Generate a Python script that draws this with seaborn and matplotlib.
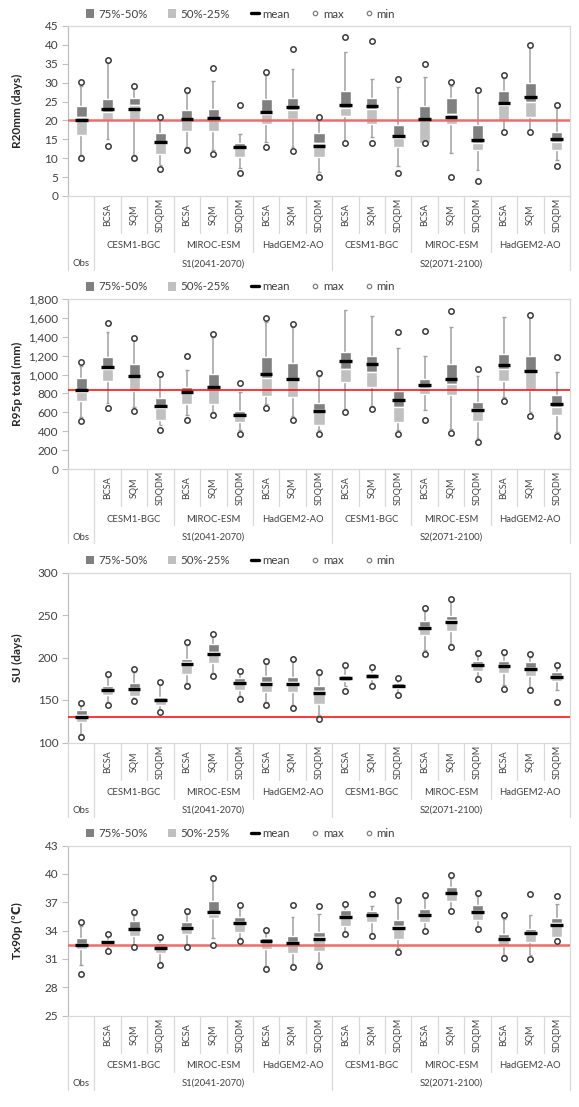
import matplotlib
matplotlib.use("Agg")
import numpy as np
import matplotlib.pyplot as plt
import matplotlib.transforms as mtransforms
from matplotlib.patches import Patch
from matplotlib.lines import Line2D
from matplotlib.ticker import StrMethodFormatter
import seaborn as sns

# categories: Obs, then S1 / S2 x (CESM1-BGC, MIROC-ESM, HadGEM2-AO) x (BCSA, SQM, SDQDM)
methods = ["BCSA", "SQM", "SDQDM"]
models = ["CESM1-BGC", "MIROC-ESM", "HadGEM2-AO"]
periods = ["Obs", "S1(2041-2070)", "S2(2071-2100)"]
n_cat = 19

# ---- R20mm (days)
r20_q75 = [23.7, 25.7, 25.9, 16.6, 22.7, 22.9, 13.9, 25.6, 25.9, 16.7, 27.9, 25.9, 18.9, 23.9, 25.9, 18.9, 27.9, 30.0, 16.9]
r20_med = [20.8, 22.3, 24.0, 13.9, 20.1, 20.3, 12.6, 21.6, 22.8, 14.0, 23.4, 22.9, 15.3, 20.0, 21.7, 14.0, 24.0, 24.9, 14.2]
r20_q25 = [16.2, 20.1, 20.1, 11.2, 17.3, 17.3, 10.4, 19.0, 20.3, 10.4, 21.1, 19.0, 13.1, 14.0, 19.0, 12.1, 20.1, 21.0, 12.1]
r20_mean = [20.2, 23.0, 22.9, 14.3, 20.5, 20.7, 13.0, 22.3, 23.5, 13.3, 24.2, 23.7, 15.9, 20.5, 20.9, 14.7, 24.7, 26.1, 15.0]
r20_whi = [29.2, 35.1, 28.5, 20.5, 27.2, 30.4, 16.4, 32.0, 33.5, 20.5, 38.0, 31.0, 28.9, 31.5, 29.2, 27.6, 31.2, 39.5, 23.5]
r20_wlo = [10.9, 15.1, 10.9, 8.2, 13.1, 12.2, 7.3, 14.4, 13.1, 6.4, 14.5, 15.7, 8.0, 14.0, 11.5, 6.9, 16.9, 16.9, 9.5]
r20_max = [30.1, 36.0, 29.0, 21.0, 28.0, 34.0, 24.0, 32.9, 38.9, 21.0, 42.0, 41.0, 31.0, 35.0, 30.1, 28.0, 32.0, 40.1, 24.1]
r20_min = [10.1, 13.2, 10.1, 7.1, 12.1, 11.0, 6.0, 13.1, 12.0, 5.0, 14.0, 14.0, 6.0, 14.0, 5.0, 4.1, 16.9, 16.9, 8.0]

# ---- R95p total (mm)
r95_q75 = [967, 1186, 1108, 755, 868, 1002, 611, 1182, 1126, 699, 1235, 1196, 829, 949, 1115, 713, 1217, 1196, 780]
r95_med = [820, 1055, 970, 650, 800, 850, 560, 960, 940, 625, 1055, 1030, 656, 861, 905, 640, 1059, 1034, 660]
r95_q25 = [716, 928, 822, 519, 688, 692, 494, 776, 759, 469, 918, 865, 501, 790, 780, 505, 935, 840, 568]
r95_mean = [833, 1080, 988, 663, 815, 872, 572, 1006, 956, 611, 1140, 1112, 730, 893, 949, 621, 1101, 1034, 685]
r95_whi = [1090, 1447, 1366, 985, 1045, 1401, 819, 1560, 1507, 985, 1683, 1623, 1285, 1196, 1507, 988, 1606, 1610, 1023]
r95_wlo = [554, 695, 660, 466, 572, 607, 413, 690, 561, 413, 640, 670, 413, 625, 420, 325, 766, 600, 395]
r95_max = [1133, 1549, 1390, 1006, 1193, 1429, 910, 1595, 1539, 1020, np.nan, np.nan, 1447, 1457, 1676, 1055, np.nan, 1627, 1182]
r95_min = [508, 646, 614, 416, 522, 568, 374, 646, 519, 374, 607, 635, 371, 519, 378, 282, 723, 565, 353]

# ---- SU (days)
su_q75 = [137.9, 166.8, 169.6, 153.8, 198.8, 215.8, 176.3, 177.9, 176.7, 166.4, 179.8, 181.4, 169.6, 243.5, 249.4, 195.7, 196.4, 194.9, 183.4]
su_med = [132.0, 163.0, 164.0, 151.0, 195.0, 206.0, 171.0, 171.0, 171.0, 161.0, 177.0, 179.0, 167.0, 236.0, 244.0, 192.0, 191.0, 188.0, 178.0]
su_q25 = [123.7, 156.0, 155.0, 143.9, 180.6, 193.3, 161.7, 159.7, 158.9, 145.8, 171.9, 175.1, 164.4, 226.5, 230.8, 183.8, 182.2, 178.7, 172.7]
su_mean = [130.4, 162.0, 162.5, 149.8, 192.9, 204.7, 169.6, 169.2, 169.2, 158.5, 176.3, 178.3, 166.8, 234.4, 241.9, 190.9, 189.7, 186.2, 176.7]
su_whi = [143.9, 177.5, 183.4, 168.4, 215.0, 224.9, 181.4, 192.5, 195.3, 179.4, 187.4, 186.6, 174.3, 254.5, 266.0, 202.0, 203.2, 200.4, 187.4]
su_wlo = [110.3, 147.8, 151.8, 138.7, 169.6, 181.4, 154.5, 147.8, 143.9, 132.0, 166.8, 169.6, 158.5, 209.1, 216.2, 177.5, 167.6, 165.6, 161.7]
su_max = [147.0, 181.0, 186.0, 170.8, 218.2, 228.0, 184.2, 195.3, 198.0, 183.0, 190.9, 189.3, 176.3, 257.7, 269.2, 205.1, 206.7, 203.6, 190.9]
su_min = [106.7, 144.3, 149.4, 136.4, 166.0, 178.3, 151.4, 144.3, 140.3, 127.7, 160.5, 166.4, 155.3, 204.3, 212.6, 174.3, 163.2, 162.0, 147.8]

# ---- Tx90p (degC)
tx_q75 = [33.2, 33.0, 35.0, 32.7, 34.9, 37.1, 35.46, 33.17, 33.38, 33.87, 36.16, 36.02, 35.14, 36.23, 38.63, 36.7, 33.6, 34.2, 35.35]
tx_med = [32.6, 32.8, 34.2, 32.3, 34.4, 35.7, 34.9, 32.9, 32.8, 33.3, 35.5, 35.7, 34.5, 35.8, 38.0, 36.1, 33.2, 33.8, 34.8]
tx_q25 = [32.0, 32.46, 33.4, 31.6, 33.6, 35.35, 33.87, 32.04, 31.65, 31.87, 34.47, 34.93, 33.1, 34.93, 37.15, 35.1, 32.4, 32.8, 33.34]
tx_mean = [32.5, 32.8, 34.15, 32.2, 34.3, 35.95, 34.75, 32.85, 32.7, 33.1, 35.39, 35.6, 34.3, 35.67, 37.92, 35.95, 33.1, 33.7, 34.58]
tx_whi = [34.5, 33.4, 35.6, 33.1, 35.7, 39.3, 36.44, 33.7, 35.4, 35.74, 36.58, 36.6, 36.87, 37.4, 39.6, 37.64, 35.25, 35.6, 36.76]
tx_wlo = [30.35, 32.0, 32.46, 30.7, 32.57, 33.2, 33.17, 30.28, 30.5, 30.7, 33.87, 33.7, 32.1, 34.2, 36.3, 34.4, 31.4, 31.4, 33.17]
tx_max = [34.86, 33.6, 35.95, 33.3, 36.06, 39.6, 36.7, 34.05, 36.7, 36.58, 36.8, 37.85, 37.2, 37.75, 39.86, 37.92, 35.6, 37.85, 37.64]
tx_min = [29.4, 31.8, 32.25, 30.3, 32.3, 32.5, 32.85, 29.93, 30.1, 30.28, 33.66, 33.38, 31.76, 33.94, 36.02, 34.15, 31.13, 30.99, 32.85]

panels = [
    dict(ylabel="R20mm (days)", ylim=(0, 45), yticks=np.arange(0, 46, 5), fmt="{x:.0f}",
         q75=r20_q75, med=r20_med, q25=r20_q25, mean=r20_mean, whi=r20_whi, wlo=r20_wlo,
         mx=r20_max, mn=r20_min, top=26, red=("#f06a6a", 1.8)),
    dict(ylabel="R95p total (mm)", ylim=(0, 1800), yticks=np.arange(0, 1801, 200), fmt="{x:,.0f}",
         q75=r95_q75, med=r95_med, q25=r95_q25, mean=r95_mean, whi=r95_whi, wlo=r95_wlo,
         mx=r95_max, mn=r95_min, top=299, red=("#ff0000", 1.1)),
    dict(ylabel="SU (days)", ylim=(100, 300), yticks=np.arange(100, 301, 50), fmt="{x:.0f}",
         q75=su_q75, med=su_med, q25=su_q25, mean=su_mean, whi=su_whi, wlo=su_wlo,
         mx=su_max, mn=su_min, top=572.5, red=("#ff0000", 1.1)),
    dict(ylabel="Tx90p (\u2103)", ylim=(25, 43), yticks=np.arange(25, 44, 3), fmt="{x:.0f}",
         q75=tx_q75, med=tx_med, q25=tx_q25, mean=tx_mean, whi=tx_whi, wlo=tx_wlo,
         mx=tx_max, mn=tx_min, top=845.5, red=("#f06a6a", 1.8)),
]

DARK = "#808080"
LIGHT = "#c0c0c0"
WHISK = "#a0a0a0"
GRID = "#d9d9d9"
TXT = "#404040"

sns.set_style("white")
plt.rcParams["font.family"] = ["Lato", "DejaVu Sans"]

W, H = 579, 1107
fig = plt.figure(figsize=(W / 100, H / 100), dpi=100)

x0_px, x1_px, h_px = 68, 570, 170
x = np.arange(n_cat)

for p in panels:
    top = p["top"]
    bot = top + h_px
    ax = fig.add_axes([x0_px / W, 1 - bot / H, (x1_px - x0_px) / W, h_px / H])

    q75 = np.array(p["q75"]); med = np.array(p["med"]); q25 = np.array(p["q25"])
    mean = np.array(p["mean"]); whi = np.array(p["whi"]); wlo = np.array(p["wlo"])

    # whiskers
    ax.vlines(x, q75, whi, color=WHISK, lw=1.1, zorder=2)
    ax.vlines(x, wlo, q25, color=WHISK, lw=1.1, zorder=2)
    ax.hlines(whi, x - 0.07, x + 0.07, color=WHISK, lw=1.0, zorder=2)
    ax.hlines(wlo, x - 0.07, x + 0.07, color=WHISK, lw=1.0, zorder=2)

    # boxes
    ax.bar(x, q75 - med, bottom=med, width=0.42, color=DARK, zorder=3)
    ax.bar(x, med - q25, bottom=q25, width=0.42, color=LIGHT, zorder=3)

    # observed mean reference line
    ax.axhline(mean[0], color=p["red"][0], lw=p["red"][1], zorder=3.5)

    # mean markers
    ax.hlines(mean, x - 0.24, x + 0.24, color="black", lw=2.4, zorder=4)

    # max / min circles
    sns.scatterplot(x=x, y=p["mx"], ax=ax, marker="o", s=15, color="white",
                    edgecolor="#3a3a3a", linewidth=1.1, zorder=5, legend=False)
    sns.scatterplot(x=x, y=p["mn"], ax=ax, marker="o", s=15, color="white",
                    edgecolor="#3a3a3a", linewidth=1.1, zorder=5, legend=False)

    ax.set_xlim(-0.5, n_cat - 0.5)
    ax.set_ylim(*p["ylim"])
    ax.set_yticks(p["yticks"])
    ax.yaxis.set_major_formatter(StrMethodFormatter(p["fmt"]))
    ax.set_xticks([])
    ax.tick_params(axis="y", length=4, width=0.8, color="#bfbfbf", labelsize=8.5,
                   labelcolor=TXT, pad=3, left=True)
    for s in ax.spines.values():
        s.set_color(GRID)
        s.set_linewidth(0.9)
    ax.spines["left"].set_color("#bfbfbf")

    ax.set_ylabel(p["ylabel"], fontsize=8.5, fontweight="bold", color="#262626")
    ax.yaxis.set_label_coords((23 - x0_px) / (x1_px - x0_px), 0.5)

    # category table below the axis
    tr = mtransforms.blended_transform_factory(ax.transData, fig.transFigure)
    fy = lambda px: 1 - px / H
    for b in np.arange(-0.5, n_cat, 1.0):
        if b in (-0.5, 0.5, 9.5, n_cat - 0.5):
            depth = 74
        elif b in (3.5, 6.5, 12.5, 15.5):
            depth = 56
        else:
            depth = 37
        ax.plot([b, b], [fy(bot), fy(bot + depth)], transform=tr, color=GRID,
                lw=0.9, clip_on=False, zorder=1)
    for i in range(1, n_cat):
        ax.text(i, fy(bot + 19), methods[(i - 1) % 3], transform=tr, rotation=90,
                ha="center", va="center", fontsize=6.5, color=TXT)
    for g in range(6):
        ax.text(2 + 3 * g, fy(bot + 50), models[g % 3], transform=tr,
                ha="center", va="center", fontsize=6.8, color=TXT)
    for xi, lab in zip([0, 5, 14], periods):
        ax.text(xi, fy(bot + 68), lab, transform=tr, ha="center", va="center",
                fontsize=6.8, color=TXT)

    handles = [
        Patch(facecolor=DARK, edgecolor="none", label="75%-50%"),
        Patch(facecolor=LIGHT, edgecolor="none", label="50%-25%"),
        Line2D([0], [0], color="black", lw=2.4, label="mean"),
        Line2D([0], [0], marker="o", ls="none", ms=3.2, mfc="white", mec="#7f7f7f",
               mew=0.9, label="max"),
        Line2D([0], [0], marker="o", ls="none", ms=3.2, mfc="white", mec="#7f7f7f",
               mew=0.9, label="min"),
    ]
    fig.legend(handles=handles, loc="center left", ncol=5, frameon=False,
               bbox_to_anchor=(86 / W, fy(top - 12)), bbox_transform=fig.transFigure,
               fontsize=8.3, handlelength=0.7, handleheight=0.7, handletextpad=0.35,
               columnspacing=1.8, borderpad=0, borderaxespad=0, labelcolor=TXT)

fig.savefig("out.png", dpi=100)
